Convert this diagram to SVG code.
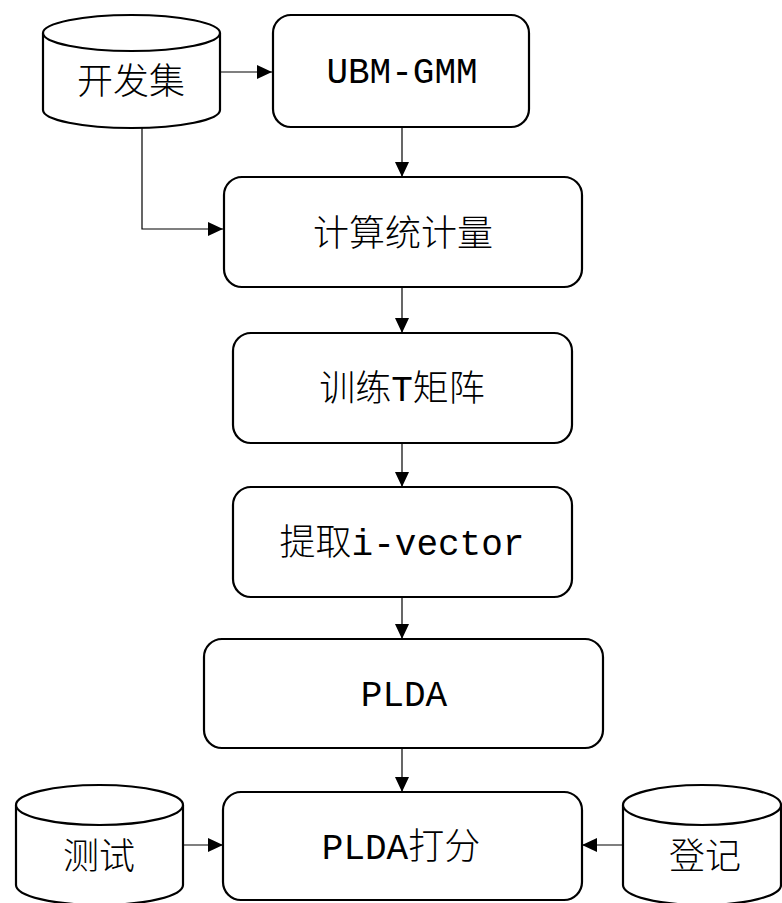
<svg xmlns="http://www.w3.org/2000/svg" width="782" height="903" viewBox="0 0 782 903">
<style>
.box{fill:#fff;stroke:#000;stroke-width:2.2}
.cyl{fill:#fff;stroke:#000;stroke-width:2.2}
.edge{fill:none;stroke:#000;stroke-width:1.2}
.t{font-family:"Liberation Mono","Noto Sans CJK SC",monospace;font-size:36px;fill:#000;text-anchor:middle;font-weight:300}
</style>
<defs>
<marker id="ah" viewBox="0 0 15 14" refX="15" refY="7" markerWidth="15" markerHeight="14" markerUnits="userSpaceOnUse" orient="auto">
<path d="M0,0 L15,7 L0,14 Z" fill="#000"/>
</marker>
</defs>
<rect width="782" height="903" fill="#fff"/>
<g id="connectors">
<path class="edge" d="M220,72 H272" marker-end="url(#ah)"/>
<path class="edge" d="M142,128 V229 H223" marker-end="url(#ah)"/>
<path class="edge" d="M402,127 V177" marker-end="url(#ah)"/>
<path class="edge" d="M402,287 V333" marker-end="url(#ah)"/>
<path class="edge" d="M402,443 V487" marker-end="url(#ah)"/>
<path class="edge" d="M402,597 V639" marker-end="url(#ah)"/>
<path class="edge" d="M402,748 V792" marker-end="url(#ah)"/>
<path class="edge" d="M183,845 H223" marker-end="url(#ah)"/>
<path class="edge" d="M623,845 H582" marker-end="url(#ah)"/>
</g>
<g id="dev">
<path class="cyl" d="M43,33 A88.5,18 0 0 1 220,33 V110 A88.5,18 0 0 1 43,110 Z"/>
<path class="cyl" d="M43,33 A88.5,18 0 0 0 220,33"/>
<text class="t" x="131" y="94">开发集</text>
</g>
<g id="ubm">
<rect class="box" x="273" y="15" width="256" height="112" rx="18"/>
<text class="t" x="402" y="83">UBM-GMM</text>
</g>
<g id="stats">
<rect class="box" x="224" y="177" width="358" height="110" rx="18"/>
<text class="t" x="403" y="246">计算统计量</text>
</g>
<g id="tmat">
<rect class="box" x="233" y="333" width="339" height="110" rx="18"/>
<text class="t" x="402" y="401">训练T矩阵</text>
</g>
<g id="ivec">
<rect class="box" x="233" y="487" width="339" height="110" rx="18"/>
<text class="t" x="402" y="555">提取i-vector</text>
</g>
<g id="plda">
<rect class="box" x="204" y="639" width="399" height="109" rx="18"/>
<text class="t" x="404" y="706">PLDA</text>
</g>
<g id="score">
<rect class="box" x="223" y="792" width="359" height="108" rx="18"/>
<text class="t" x="401" y="859">PLDA打分</text>
</g>
<g id="test">
<path class="cyl" d="M16,805 A83.5,20 0 0 1 183,805 V885 A83.5,20 0 0 1 16,885 Z"/>
<path class="cyl" d="M16,805 A83.5,20 0 0 0 183,805"/>
<text class="t" x="99" y="869">测试</text>
</g>
<g id="enroll">
<path class="cyl" d="M623,805 A79,20 0 0 1 781,805 V885 A79,20 0 0 1 623,885 Z"/>
<path class="cyl" d="M623,805 A79,20 0 0 0 781,805"/>
<text class="t" x="705" y="869">登记</text>
</g>
</svg>
